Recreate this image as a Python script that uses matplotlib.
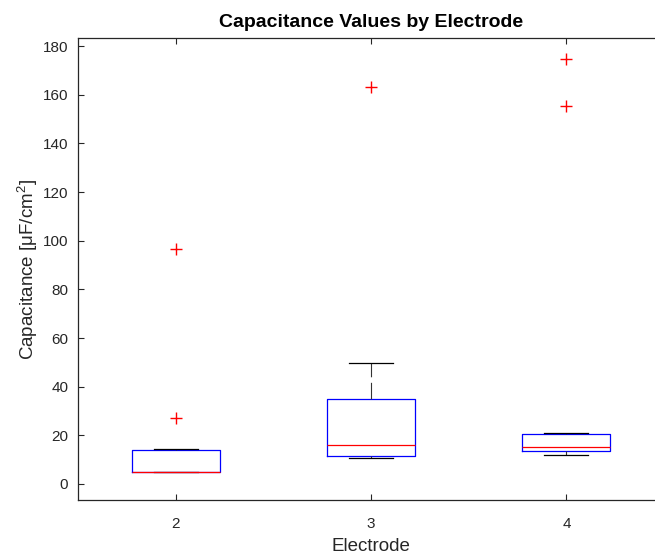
import matplotlib.pyplot as plt

plt.rcParams['font.family'] = ['Liberation Sans', 'DejaVu Sans']
plt.rcParams['mathtext.fontset'] = 'custom'
plt.rcParams['mathtext.rm'] = 'Liberation Sans'
plt.rcParams['mathtext.it'] = 'Liberation Sans'

# summary statistics per electrode
electrodes = [2, 3, 4]
medians = [5.0, 16.0, 15.2]
q1 = [5.0, 11.5, 13.7]
q3 = [13.8, 34.9, 20.6]
whisker_lo = [4.9, 10.8, 11.9]
whisker_hi = [14.2, 49.8, 21.0]
outliers = [[27.3, 96.5], [163.0], [155.2, 174.6]]

stats = []
for i in range(len(electrodes)):
    stats.append({'med': medians[i], 'q1': q1[i], 'q3': q3[i],
                  'whislo': whisker_lo[i], 'whishi': whisker_hi[i],
                  'fliers': outliers[i], 'label': str(electrodes[i])})

fig = plt.figure(figsize=(6.55, 5.55), dpi=100)
ax = fig.add_axes([0.119, 0.099, 0.895, 0.8325])

ax.bxp(stats, positions=electrodes, widths=0.45, capwidths=0.225,
       boxprops=dict(color='#0000ff', linewidth=0.9),
       medianprops=dict(color='#ff0000', linewidth=0.9),
       whiskerprops=dict(color='#333333', linewidth=0.8, linestyle=(0, (15, 5))),
       capprops=dict(color='black', linewidth=0.9),
       flierprops=dict(marker='+', markeredgecolor='#ff0000', markersize=9,
                       markeredgewidth=1.0, linestyle='none'))

ax.set_xlim(1.5, 4.5)
ax.set_ylim(-6.6, 183.3)
ax.set_xticks(electrodes)
ax.set_xticklabels([str(e) for e in electrodes])
ax.set_yticks(range(0, 181, 20))

dark = '#262626'
for s in ax.spines.values():
    s.set_color(dark)
    s.set_linewidth(0.9)
ax.tick_params(direction='in', top=True, right=True, length=4, width=0.8,
               colors=dark, labelsize=11, labelcolor=dark)
ax.tick_params(axis='x', pad=12)
ax.tick_params(axis='y', pad=7)

ax.set_xlabel('Electrode', fontsize=13.5, color=dark, labelpad=5)
ax.set_ylabel(r'Capacitance [μF/cm$^2$]', fontsize=13.5, color=dark, labelpad=2)
ax.set_title('Capacitance Values by Electrode', fontsize=14,
             fontweight='bold', color='black', pad=8)

fig.savefig('out.png', dpi=100)
